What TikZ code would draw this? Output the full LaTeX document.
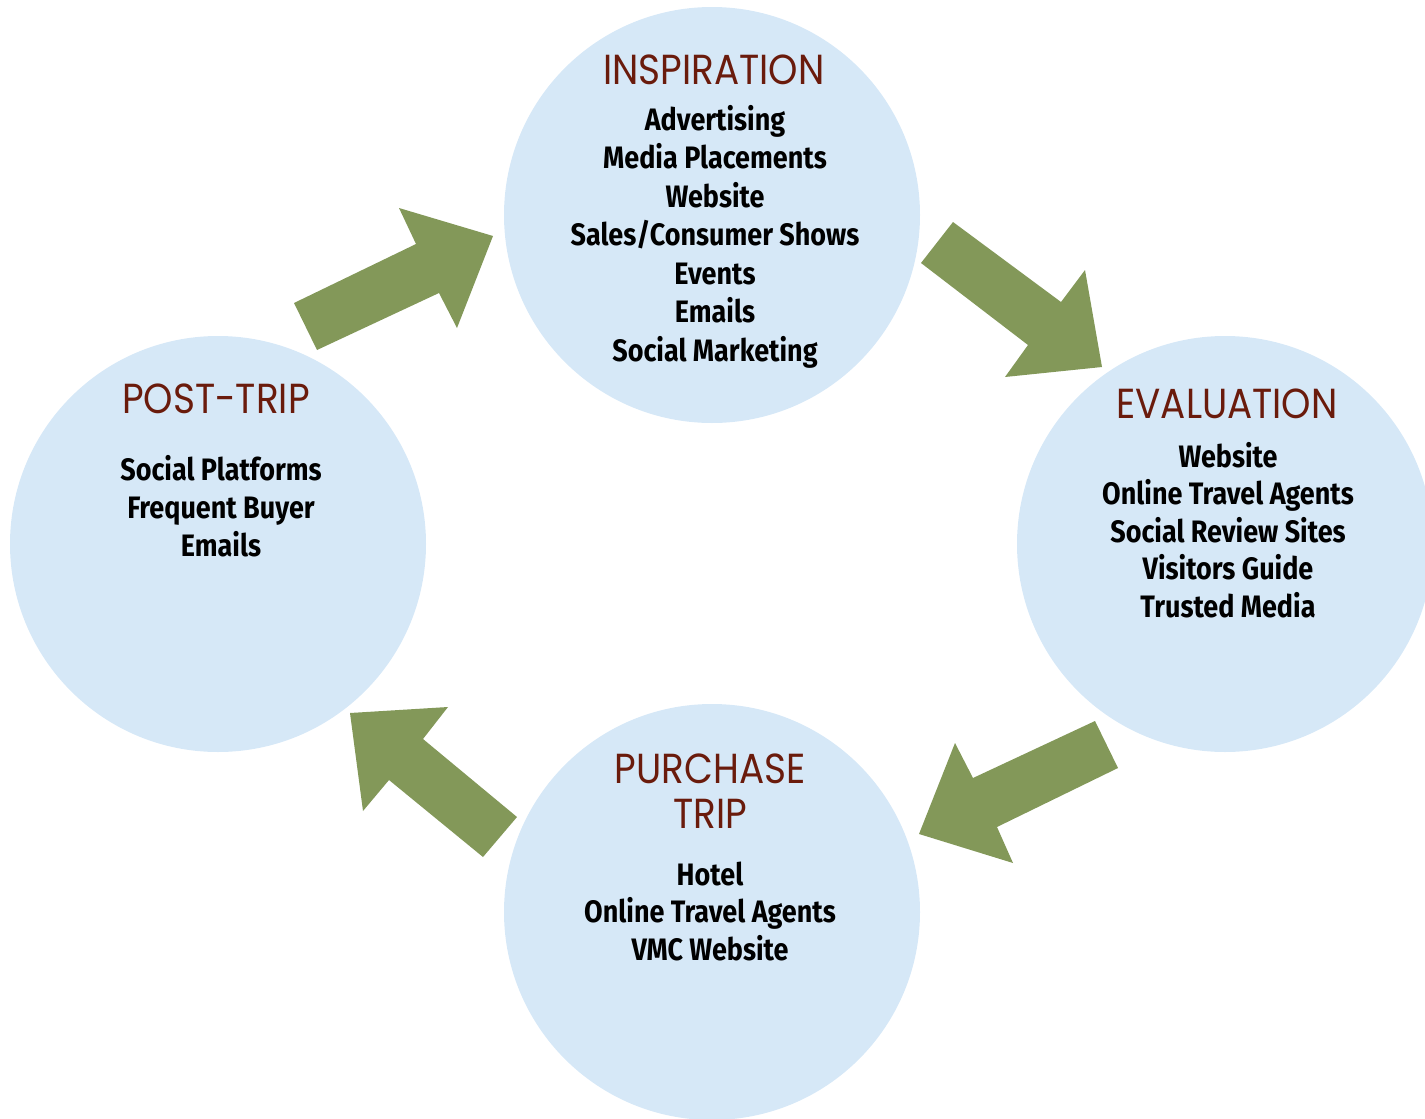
\documentclass[tikz,border=0pt]{standalone}
\usepackage{fontspec}
\newfontfamily\headfont[FakeStretch=0.89]{Poppins}
\newfontfamily\itemfont[FakeStretch=0.87]{Fira Sans}
\definecolor{bubble}{HTML}{D6E8F7}
\definecolor{leaf}{HTML}{839859}
\definecolor{rust}{HTML}{6A1B0C}
\begin{document}
\begin{tikzpicture}[x=1pt,y=-1pt,
  stage/.style={circle,fill=bubble,minimum size=416pt,inner sep=0pt},
  head/.style={anchor=base,text=rust,font=\headfont\fontsize{42}{45}\selectfont,inner sep=0pt},
  item/.style={anchor=base,text=black,font=\itemfont\bfseries\fontsize{31}{38}\selectfont,inner sep=0pt},
  flow/.style={fill=leaf}]
\useasboundingbox (0,0) rectangle (1425,1119);

% the four stages
\node[stage] (insp) at (712,215) {};
\node[stage] (eval) at (1225,544) {};
\node[stage] (purch) at (712,912) {};
\node[stage] (post) at (218,544) {};

% block arrows between stages
\fill[flow] (294,303) -- (416,244) -- (399,208) -- (493,236) -- (457,328) -- (439,293) -- (317,350) -- cycle;
\fill[flow] (953,222) -- (1061,302) -- (1085,270) -- (1102,367) -- (1005,377) -- (1028,345) -- (921,263) -- cycle;
\fill[flow] (1118,768) -- (997,827) -- (1013,863) -- (919,834) -- (955,743) -- (973,778) -- (1095,721) -- cycle;
\fill[flow] (483,857) -- (389,780) -- (363,811) -- (350,713) -- (448,707) -- (423,739) -- (517,817) -- cycle;

% inspiration
\node[head] (insp-h) at (714,84) {INSPIRATION};
\foreach \t [count=\i] in {Advertising,Media Placements,Website,Sales/Consumer Shows,Events,Emails,Social Marketing}
  \node[item] (insp-\i) at (715,{130+38.5*(\i-1)}) {\t};

% evaluation
\node[head] (eval-h) at (1227,418) {EVALUATION};
\foreach \t [count=\i] in {Website,Online Travel Agents,Social Review Sites,Visitors Guide,Trusted Media}
  \node[item] (eval-\i) at (1228,{467+37.6*(\i-1)}) {\t};

% purchase / trip
\node[head] (purch-h1) at (710,783) {PURCHASE};
\node[head] (purch-h2) at (710,828) {TRIP};
\foreach \t [count=\i] in {Hotel,Online Travel Agents,VMC Website}
  \node[item] (purch-\i) at (710,{885+37.5*(\i-1)}) {\t};

% post-trip
\node[head] (post-h) at (216,413) {POST-TRIP};
\foreach \t [count=\i] in {Social Platforms,Frequent Buyer,Emails}
  \node[item] (post-\i) at (221,{480+38*(\i-1)}) {\t};
\end{tikzpicture}
\end{document}
